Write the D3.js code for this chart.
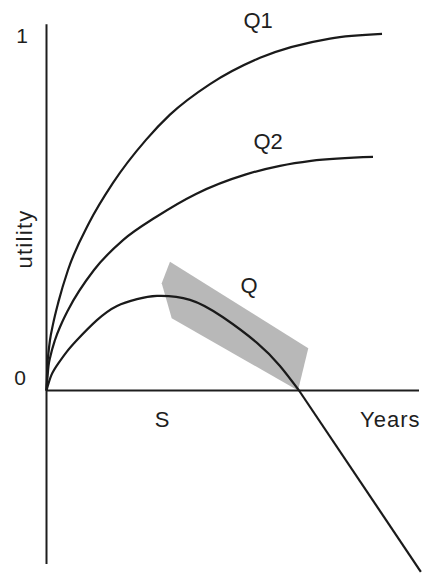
<!doctype html>
<html lang="en">
<head>
<meta charset="utf-8">
<title>Utility over years</title>
<style>
  body { margin: 0; background: #fff; }
  svg { display: block; }
  text { font-family: "Liberation Sans", Arial, Helvetica, sans-serif; fill: #1e1e1e; }
</style>
</head>
<body>
<svg></svg>
<script src="https://cdn.jsdelivr.net/npm/d3@7/dist/d3.min.js"></script>
<script>
// data (x in arbitrary year units, y in utility)
let seriesNames = ["Q1", "Q2", "Q"];

let q1Years   = [0, 0.27, 0.54, 0.94, 1.74, 3.22, 5.77, 11.41, 17.85, 26.71, 33.15, 43.89, 57.32, 76.11, 90.07];
let q1Utility = [0, 0.076, 0.107, 0.142, 0.186, 0.250, 0.339, 0.471, 0.584, 0.705, 0.776, 0.862, 0.936, 0.990, 1.003];

let q2Years   = [0, 0.54, 1.07, 2.28, 3.89, 5.77, 12.75, 20.54, 29.40, 40.13, 53.56, 62.68, 71.01, 87.65];
let q2Utility = [0, 0.069, 0.097, 0.142, 0.185, 0.226, 0.339, 0.423, 0.488, 0.553, 0.608, 0.632, 0.646, 0.657];

let qYears   = [0, 1.34, 3.22, 5.37, 8.19, 13.54, 18.93, 24.30, 29.66, 38.52, 47.38, 56.51, 62.68, 67.79];
let qUtility = [0, 0.044, 0.077, 0.108, 0.142, 0.198, 0.238, 0.257, 0.266, 0.255, 0.206, 0.134, 0.069, 0];

// straight decline after Q crosses zero
let declineYears   = [67.79, 100.5];
let declineUtility = [0, -0.51];

// shaded band around Q
let bandYears   = [33.15, 30.93, 33.61, 67.52, 70.28];
let bandUtility = [0.362, 0.302, 0.203, 0, 0.119];

let yTickValues = [0, 1];
let yTickLabels = ["0", "1"];
let xTickValues = [31];
let xTickLabels = ["S"];

let width = 422,
    height = 573;

let svg = d3.select("svg")
    .attr("width", width)
    .attr("height", height);

let x = d3.scaleLinear().domain([0, 100]).range([46.5, 419]);
let y = d3.scaleLinear().domain([0, 1]).range([390.5, 35]);

let zip = (xs, ys) => xs.map((v, i) => [v, ys[i]]);

// shaded band
svg.append("path")
    .datum(zip(bandYears, bandUtility))
    .attr("fill", "#b8b8b8")
    .attr("stroke", "none")
    .attr("d", d3.line().x(d => x(d[0])).y(d => y(d[1])).curve(d3.curveLinearClosed));

// axes
svg.append("line")
    .attr("x1", x(0)).attr("x2", x(0))
    .attr("y1", y(1.03)).attr("y2", y(-0.488))
    .attr("stroke", "#1e1e1e").attr("stroke-width", 2);

svg.append("line")
    .attr("x1", x(0)).attr("x2", x(100))
    .attr("y1", y(0)).attr("y2", y(0))
    .attr("stroke", "#1e1e1e").attr("stroke-width", 2);

// curves: Q1 and Q2 rise monotonically, Q has a hump
let curves = [
    { pts: zip(q1Years, q1Utility), curve: d3.curveMonotoneX },
    { pts: zip(q2Years, q2Utility), curve: d3.curveMonotoneX },
    { pts: zip(qYears, qUtility),   curve: d3.curveNatural }
];

svg.append("g")
    .selectAll("path")
    .data(curves)
    .enter()
    .append("path")
    .attr("fill", "none")
    .attr("stroke", "#1a1a1a")
    .attr("stroke-width", 2.2)
    .attr("d", c => d3.line().x(d => x(d[0])).y(d => y(d[1])).curve(c.curve)(c.pts));

svg.append("path")
    .datum(zip(declineYears, declineUtility))
    .attr("fill", "none")
    .attr("stroke", "#1a1a1a")
    .attr("stroke-width", 2.2)
    .attr("d", d3.line().x(d => x(d[0])).y(d => y(d[1])));

// curve labels
let labelAnchors = [[56.8, 1.02], [59.5, 0.679], [54.4, 0.274]];
svg.append("g")
    .selectAll("text")
    .data(seriesNames)
    .enter()
    .append("text")
    .attr("x", (d, i) => x(labelAnchors[i][0]))
    .attr("y", (d, i) => y(labelAnchors[i][1]))
    .attr("text-anchor", "middle")
    .style("font-size", "22px")
    .text(d => d);

// y tick labels
svg.append("g")
    .selectAll("text")
    .data(yTickValues)
    .enter()
    .append("text")
    .attr("x", (d, i) => i === 0 ? 20 : 22)
    .attr("y", d => d === 0 ? y(d) - 6 : y(d) + 8)
    .attr("text-anchor", "middle")
    .style("font-size", "21px")
    .text((d, i) => yTickLabels[i]);

// x tick label
svg.append("g")
    .selectAll("text")
    .data(xTickValues)
    .enter()
    .append("text")
    .attr("x", d => x(d))
    .attr("y", y(0) + 36.5)
    .attr("text-anchor", "middle")
    .style("font-size", "22px")
    .text((d, i) => xTickLabels[i]);

// axis titles
svg.append("text")
    .attr("x", 360)
    .attr("y", y(0) + 36.5)
    .style("font-size", "22px")
    .style("letter-spacing", "1px")
    .text("Years");

svg.append("text")
    .attr("transform", "translate(32,239) rotate(-90)")
    .attr("text-anchor", "middle")
    .style("font-size", "22px")
    .style("letter-spacing", "1.3px")
    .text("utility");
</script>
</body>
</html>
